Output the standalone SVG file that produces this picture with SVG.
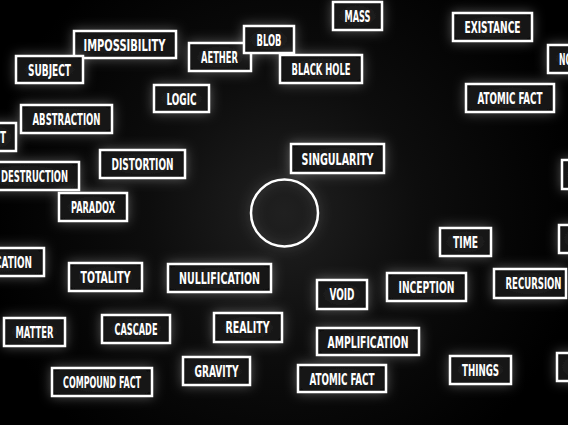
<svg xmlns="http://www.w3.org/2000/svg" width="568" height="425" viewBox="0 0 568 425">
<defs>
<radialGradient id="bg" gradientUnits="userSpaceOnUse" cx="284" cy="213" r="300">
<stop offset="0" stop-color="#202020"/>
<stop offset="0.45" stop-color="#0d0d0d"/>
<stop offset="1" stop-color="#000"/>
</radialGradient>
<radialGradient id="boxfill" cx="0.5" cy="0.5" r="0.7">
<stop offset="0" stop-color="#262626"/>
<stop offset="1" stop-color="#0e0e0e"/>
</radialGradient>
<filter id="glow" x="-40%" y="-80%" width="180%" height="260%">
<feGaussianBlur in="SourceAlpha" stdDeviation="6" result="b"/>
<feFlood flood-color="#ffffff" flood-opacity="0.32"/>
<feComposite in2="b" operator="in" result="g"/>
<feMerge><feMergeNode in="g"/><feMergeNode in="SourceGraphic"/></feMerge>
</filter>
</defs>
<style>
.box{fill:url(#boxfill);stroke:#fff;stroke-width:2.5;filter:url(#glow)}
.lbl{fill:#fff;font-family:"DejaVu Sans Condensed","DejaVu Sans","Liberation Sans",sans-serif;font-stretch:condensed;font-weight:bold;font-size:16px;text-anchor:middle}
.st{text-anchor:start}
.ring{fill:none;stroke:#fff;stroke-width:2.5;filter:url(#glow)}
</style>
<rect width="568" height="425" fill="url(#bg)"/>
<g id="connectors"/>
<g id="n-mass"><rect class="box" x="333" y="2" width="49" height="28"/><text class="lbl" x="357.5" y="21.5" textLength="26" lengthAdjust="spacingAndGlyphs">MASS</text></g>
<g id="n-existance"><rect class="box" x="453" y="13" width="79" height="28"/><text class="lbl" x="492.5" y="32.5" textLength="56" lengthAdjust="spacingAndGlyphs">EXISTANCE</text></g>
<g id="n-no"><rect class="box" x="548" y="45" width="60" height="28"/><text class="lbl st" x="559" y="64.5" textLength="13" lengthAdjust="spacingAndGlyphs">NO</text></g>
<g id="n-impossibility"><rect class="box" x="74" y="31" width="102" height="27"/><text class="lbl" x="124.5" y="50.5" textLength="82" lengthAdjust="spacingAndGlyphs">IMPOSSIBILITY</text></g>
<g id="n-subject"><rect class="box" x="16" y="56" width="67" height="27"/><text class="lbl" x="49.5" y="75.5" textLength="43" lengthAdjust="spacingAndGlyphs">SUBJECT</text></g>
<g id="n-aether"><rect class="box" x="189" y="43" width="62" height="28"/><text class="lbl" x="219.5" y="62.5" textLength="37" lengthAdjust="spacingAndGlyphs">AETHER</text></g>
<g id="n-blob"><rect class="box" x="244" y="26" width="50" height="27"/><text class="lbl" x="269" y="45.5" textLength="25" lengthAdjust="spacingAndGlyphs">BLOB</text></g>
<g id="n-blackhole"><rect class="box" x="280" y="55" width="82" height="28"/><text class="lbl" x="321" y="74.5" textLength="59" lengthAdjust="spacingAndGlyphs">BLACK HOLE</text></g>
<g id="n-atomicfact1"><rect class="box" x="466" y="84" width="88" height="28"/><text class="lbl" x="510" y="103.5" textLength="65" lengthAdjust="spacingAndGlyphs">ATOMIC FACT</text></g>
<g id="n-logic"><rect class="box" x="154" y="85" width="55" height="27"/><text class="lbl" x="181.5" y="104.5" textLength="30" lengthAdjust="spacingAndGlyphs">LOGIC</text></g>
<g id="n-abstraction"><rect class="box" x="21" y="105" width="91" height="28"/><text class="lbl" x="66.5" y="124.5" textLength="68" lengthAdjust="spacingAndGlyphs">ABSTRACTION</text></g>
<g id="n-t"><rect class="box" x="-20" y="123" width="36" height="28"/><text class="lbl st" x="0" y="142.5" textLength="6" lengthAdjust="spacingAndGlyphs">T</text></g>
<g id="n-singularity"><rect class="box" x="291" y="144" width="93" height="29"/><text class="lbl" x="337.5" y="164.5" textLength="72" lengthAdjust="spacingAndGlyphs">SINGULARITY</text></g>
<g id="n-distortion"><rect class="box" x="100" y="150" width="85" height="28"/><text class="lbl" x="142.5" y="169.5" textLength="62" lengthAdjust="spacingAndGlyphs">DISTORTION</text></g>
<g id="n-right1"><rect class="box" x="562" y="160" width="40" height="29"/></g>
<g id="n-destruction"><rect class="box" x="-30" y="162" width="109" height="28"/><text class="lbl st" x="1" y="181.5" textLength="67" lengthAdjust="spacingAndGlyphs">DESTRUCTION</text></g>
<g id="n-paradox"><rect class="box" x="59" y="193" width="68" height="28"/><text class="lbl" x="93" y="212.5" textLength="44" lengthAdjust="spacingAndGlyphs">PARADOX</text></g>
<g id="n-circle"><circle class="ring" cx="284.5" cy="213" r="33.5"/></g>
<g id="n-time"><rect class="box" x="440" y="228" width="51" height="28"/><text class="lbl" x="465.5" y="247.5" textLength="25" lengthAdjust="spacingAndGlyphs">TIME</text></g>
<g id="n-right2"><rect class="box" x="559" y="225" width="40" height="28"/></g>
<g id="n-cation"><rect class="box" x="-60" y="248" width="104" height="28"/><text class="lbl st" x="-5" y="267.5" textLength="37" lengthAdjust="spacingAndGlyphs">CATION</text></g>
<g id="n-totality"><rect class="box" x="69" y="263" width="73" height="28"/><text class="lbl" x="105.5" y="282.5" textLength="50" lengthAdjust="spacingAndGlyphs">TOTALITY</text></g>
<g id="n-nullification"><rect class="box" x="168" y="264" width="103" height="28"/><text class="lbl" x="219.5" y="283.5" textLength="81" lengthAdjust="spacingAndGlyphs">NULLIFICATION</text></g>
<g id="n-recursion"><rect class="box" x="494" y="269" width="72" height="29"/><text class="lbl" x="533.5" y="289" textLength="56" lengthAdjust="spacingAndGlyphs">RECURSION</text></g>
<g id="n-inception"><rect class="box" x="387" y="273" width="79" height="28"/><text class="lbl" x="426.5" y="292.5" textLength="56" lengthAdjust="spacingAndGlyphs">INCEPTION</text></g>
<g id="n-void"><rect class="box" x="317" y="280" width="50" height="29"/><text class="lbl" x="342" y="300" textLength="25" lengthAdjust="spacingAndGlyphs">VOID</text></g>
<g id="n-matter"><rect class="box" x="4" y="318" width="61" height="28"/><text class="lbl" x="34.5" y="337.5" textLength="38" lengthAdjust="spacingAndGlyphs">MATTER</text></g>
<g id="n-cascade"><rect class="box" x="102" y="315" width="68" height="28"/><text class="lbl" x="136" y="334.5" textLength="43" lengthAdjust="spacingAndGlyphs">CASCADE</text></g>
<g id="n-reality"><rect class="box" x="214" y="313" width="68" height="29"/><text class="lbl" x="247.5" y="333" textLength="44" lengthAdjust="spacingAndGlyphs">REALITY</text></g>
<g id="n-amplification"><rect class="box" x="317" y="328" width="102" height="27"/><text class="lbl" x="368" y="347.5" textLength="81" lengthAdjust="spacingAndGlyphs">AMPLIFICATION</text></g>
<g id="n-gravity"><rect class="box" x="183" y="357" width="67" height="28"/><text class="lbl" x="216.5" y="376.5" textLength="44" lengthAdjust="spacingAndGlyphs">GRAVITY</text></g>
<g id="n-compoundfact"><rect class="box" x="52" y="368" width="100" height="28"/><text class="lbl" x="102" y="387.5" textLength="78" lengthAdjust="spacingAndGlyphs">COMPOUND FACT</text></g>
<g id="n-atomicfact2"><rect class="box" x="298" y="365" width="88" height="27"/><text class="lbl" x="342" y="384.5" textLength="65" lengthAdjust="spacingAndGlyphs">ATOMIC FACT</text></g>
<g id="n-things"><rect class="box" x="450" y="356" width="61" height="28"/><text class="lbl" x="480.5" y="375.5" textLength="37" lengthAdjust="spacingAndGlyphs">THINGS</text></g>
<g id="n-right3"><rect class="box" x="557" y="353" width="40" height="28"/></g>
</svg>
